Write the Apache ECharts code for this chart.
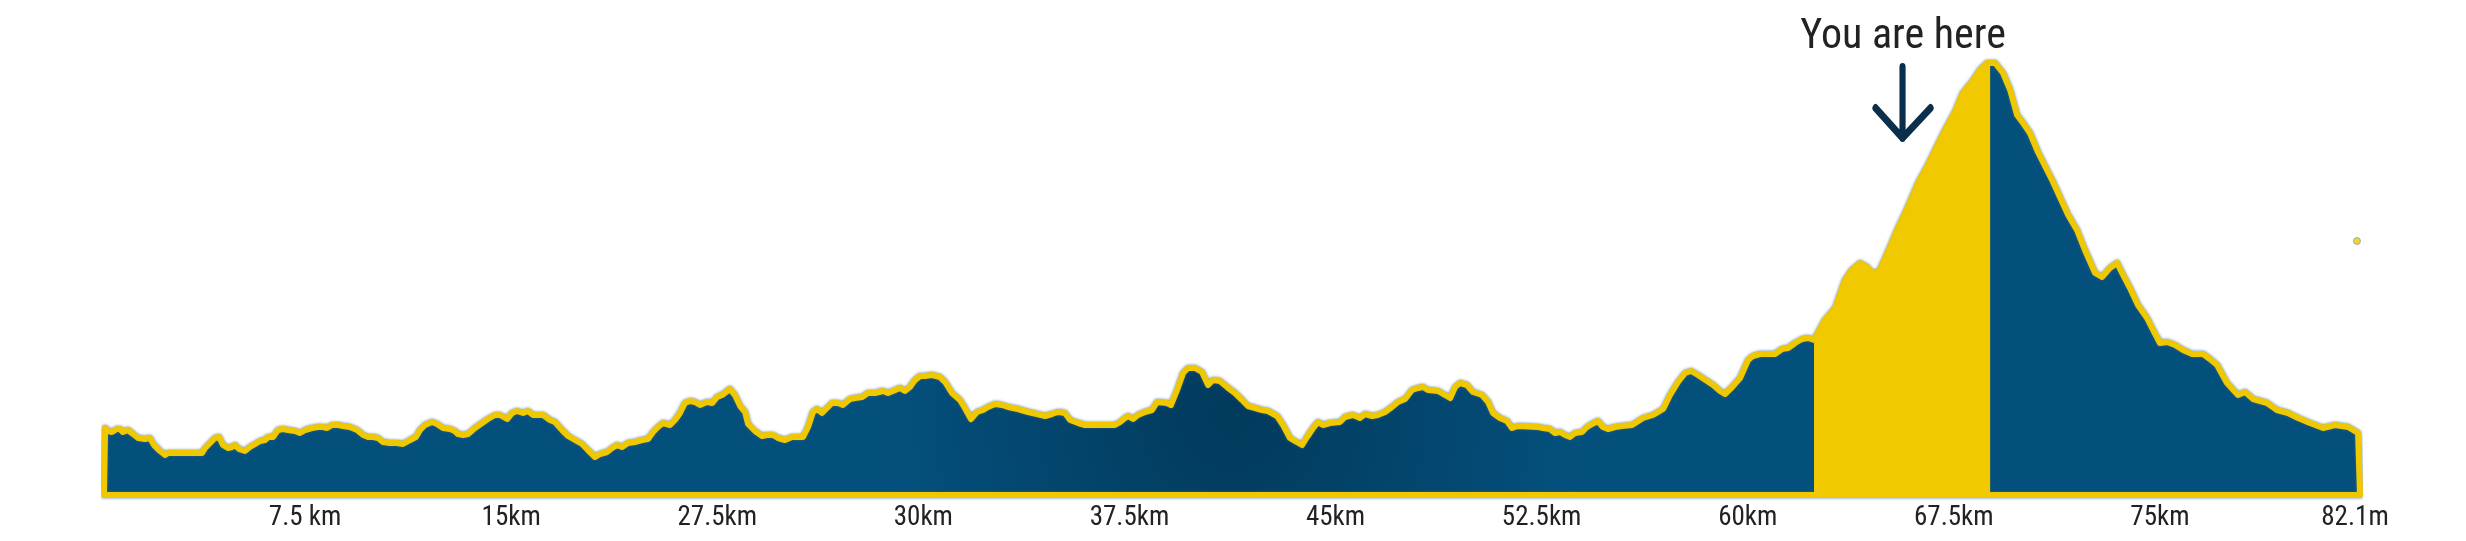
<!DOCTYPE html>
<html>
<head>
<meta charset="utf-8">
<script src="https://cdn.jsdelivr.net/npm/echarts@6/dist/echarts.min.js"></script>
<style>
html,body{margin:0;padding:0;background:#fff;}
#chart{width:2466px;height:541px;}
</style>
</head>
<body>
<div id="chart"></div>
<script>
// Distance along the route (km)
const distKm = [
0.04,0.15,0.29,0.47,0.58,0.69,0.87,1.06,1.24,1.49,1.67,1.82,2.04,2.22,2.33,3.57,3.68,3.86,4.04,4.19,
4.33,4.51,4.66,4.77,4.91,5.13,5.31,5.50,5.68,5.86,5.97,6.15,6.33,6.51,6.70,6.95,7.13,7.32,7.57,7.79,
7.97,8.12,8.30,8.52,8.70,8.95,9.21,9.43,9.61,9.79,9.97,10.15,10.41,10.66,10.88,11.14,11.35,11.50,11.68,11.94,
12.12,12.34,12.59,12.77,12.88,13.07,13.25,13.50,
13.76,13.97,14.23,14.41,14.67,14.85,15.03,15.25,15.43,15.61,15.98,16.23,16.41,16.67,16.89,17.14,17.40,17.61,17.87,18.05,
18.31,18.49,18.67,18.85,19.07,19.32,19.58,19.80,19.98,20.16,20.34,20.60,20.78,20.96,21.14,21.33,21.51,21.69,21.94,22.13,
22.31,22.49,22.78,22.96,23.15,23.33,23.44,23.69,23.95,24.13,24.35,24.53,24.78,25.04,25.44,25.62,25.80,25.95,26.13,26.31,
26.49,26.71,26.89,27.15,27.33,
27.59,27.80,28.06,28.35,28.53,28.71,28.97,29.15,29.33,29.51,29.70,29.88,30.13,30.42,30.61,30.86,31.15,31.33,31.55,31.77,
31.99,32.17,32.43,32.68,32.90,33.26,33.63,33.95,34.25,34.50,34.72,34.97,35.16,35.45,35.70,36.79,36.98,37.16,37.27,37.45,
37.63,37.88,38.14,38.32,38.69,38.83,39.05,39.27,39.45,39.70,39.96,40.18,40.36,40.61,40.87,41.16,
41.42,41.63,41.89,42.14,42.36,42.69,42.91,43.16,43.34,43.60,43.78,44.00,44.18,44.36,44.62,44.98,45.16,45.45,45.71,45.89,
46.15,46.36,46.62,46.87,47.09,47.35,47.60,47.82,48.00,48.18,48.55,48.80,48.99,49.17,49.35,49.60,49.82,50.15,50.37,50.55,
50.80,51.06,51.24,51.46,52.19,52.37,52.62,52.81,52.99,53.17,53.35,53.53,53.79,53.97,54.15,54.37,54.55,54.73,54.99,
55.24,55.61,56.01,56.37,56.74,56.99,57.28,57.54,57.76,58.01,58.34,58.56,58.81,58.99,59.25,59.54,59.83,60.01,60.27,60.81,
61.07,61.29,61.54,61.80,62.01,62.23,62.63,63.00,63.36,63.61,63.91,64.16,64.38,64.63,65.00,65.29,65.65,66.02,66.34,66.64,
67.00,67.36,67.65,67.98,68.27,68.53,68.71,
68.82,69.11,69.37,69.62,69.84,70.09,70.38,70.71,70.93,71.18,71.48,71.80,72.09,72.46,72.71,73.00,73.26,73.48,73.73,74.02,
74.35,74.57,74.82,75.08,75.37,75.66,75.99,76.39,76.64,76.90,77.26,77.66,77.92,78.21,78.72,79.08,79.48,79.85,80.28,80.76,
81.19,81.67,82.03
];
// Elevation (m)
const elevM = [
134,128,126,132,132,126,130,122,114,112,114,100,88,80,84,84,94,104,114,116,
100,94,96,100,92,88,96,102,108,110,116,116,130,132,130,128,124,130,134,136,
136,134,140,140,138,136,130,120,116,116,114,106,104,104,102,110,116,130,140,146,
142,134,132,128,122,120,122,134,
144,152,160,160,152,164,168,164,168,160,160,150,146,130,118,110,102,90,76,82,
86,94,100,96,104,106,110,112,126,136,144,140,150,164,184,188,186,180,186,184,
196,200,212,200,178,166,142,128,118,120,120,114,110,116,116,136,166,172,164,174,
184,184,180,192,194,
196,204,204,208,204,208,214,208,216,230,238,238,240,236,226,204,190,174,152,166,
170,176,182,180,176,172,166,162,158,162,166,164,150,144,140,140,146,154,158,152,
160,166,170,186,184,180,210,244,254,254,246,220,230,228,216,204,
190,178,174,170,168,158,140,114,108,100,116,134,146,140,144,146,156,160,154,162,
158,160,166,176,186,192,210,214,216,210,208,200,194,216,224,220,206,200,186,164,
154,148,134,138,136,134,132,124,126,120,116,124,126,136,142,148,136,132,136,
138,140,154,160,172,200,226,244,248,240,228,220,208,202,216,234,270,278,282,282,
292,294,304,312,314,310,350,374,430,450,464,456,442,450,496,534,576,624,656,690,
730,766,804,826,850,864,864,
864,844,810,760,744,724,686,650,626,596,560,530,490,444,436,454,464,440,414,380,
354,330,304,306,300,290,282,282,272,260,224,200,206,192,184,170,164,154,144,134,
140,136,124
];
const totalKm = 82.1;
// "You are here" segment and marker
const hereStartKm = 62.23;
const hereEndKm = 68.64;
const arrowKm = 65.47;
const arrowElev = 785;
// Isolated point on the right
const dotPoint = [81.99, 508];
// Axis ticks and labels
const tickValues = [7.5, 15, 22.5, 30, 37.5, 45, 52.5, 60, 67.5, 75, 82.1];
const tickLabels = ['7.5 km', '15km', '27.5km', '30km', '37.5km', '45km', '52.5km', '60km', '67.5km', '75km', '82.1m'];

const FONT = '"Liberation Sans Narrow", "Roboto Condensed", "DejaVu Sans Condensed", "Liberation Sans", sans-serif';

// closed outline: bottom-left -> profile -> bottom-right -> bottom-left
const profile = distKm.map((d, i) => [d, elevM[i]]);
const mainData = [[0, 0]].concat(profile, [[totalKm, 0], [0, 0]]);

function elevAt(km) {
  for (let i = 1; i < distKm.length; i++) {
    if (distKm[i] >= km) {
      const t = (km - distKm[i - 1]) / (distKm[i] - distKm[i - 1]);
      return elevM[i - 1] + t * (elevM[i] - elevM[i - 1]);
    }
  }
  return elevM[elevM.length - 1];
}
const hereData = [[hereStartKm, 0]]
  .concat(profile.filter(p => p[0] >= hereStartKm && p[0] <= hereEndKm))
  .concat([[hereEndKm, elevAt(hereEndKm)], [hereEndKm, 0]]);

function labelFor(v) {
  for (let i = 0; i < tickValues.length; i++) {
    if (Math.abs(v - tickValues[i]) < 1e-6) return tickLabels[i];
  }
  return '';
}

const chart = echarts.init(document.getElementById('chart'), null, {renderer: 'canvas'});
chart.setOption({
  animation: false,
  backgroundColor: '#ffffff',
  grid: {left: 104, right: 106, top: 0, bottom: 46},
  xAxis: {
    type: 'value', min: 0, max: totalKm, interval: 7.5,
    axisLine: {show: false}, axisTick: {show: false}, splitLine: {show: false},
    axisLabel: {
      show: true, margin: 10, fontSize: 27, fontFamily: FONT, color: '#222222',
      padding: [0, 10, 0, 0],
      formatter: labelFor
    }
  },
  yAxis: {type: 'value', min: 0, max: 990, show: false},
  series: [
    {
      name: 'Elevation', type: 'line', data: mainData, symbol: 'none', showSymbol: false,
      clip: false, z: 2, silent: true,
      lineStyle: {color: '#f0c800', width: 6, join: 'round', cap: 'round',
        shadowColor: 'rgba(60,100,140,0.85)', shadowBlur: 3},
      areaStyle: {
        opacity: 1,
        color: new echarts.graphic.RadialGradient(0.5, 0.82, 0.8, [
          {offset: 0, color: '#023a5b'},
          {offset: 1, color: '#04507d'}
        ])
      }
    },
    {
      name: 'You are here', type: 'line', data: hereData, symbol: 'none', showSymbol: false,
      clip: false, z: 3, silent: true,
      lineStyle: {width: 0, color: '#f0c800'},
      areaStyle: {opacity: 1, color: '#f0c900'},
      markPoint: {
        silent: true,
        data: [{
          coord: [arrowKm, arrowElev],
          symbol: 'path://M27,0L27,71M0,41L27,71L55,41',
          symbolSize: [55, 71],
          itemStyle: {color: 'rgba(0,0,0,0)', borderColor: '#0a2f4d', borderWidth: 7,
            borderCap: 'round', borderJoin: 'round'},
          label: {show: true, position: 'top', distance: 5, formatter: 'You are here',
            fontSize: 42, fontFamily: FONT, color: '#222222'}
        }]
      }
    },
    {
      name: 'Marker', type: 'scatter', data: [dotPoint], symbolSize: 7, z: 4, silent: true,
      itemStyle: {color: '#f0c800', borderColor: '#8aa3b8', borderWidth: 1}
    }
  ]
});
</script>
</body>
</html>
